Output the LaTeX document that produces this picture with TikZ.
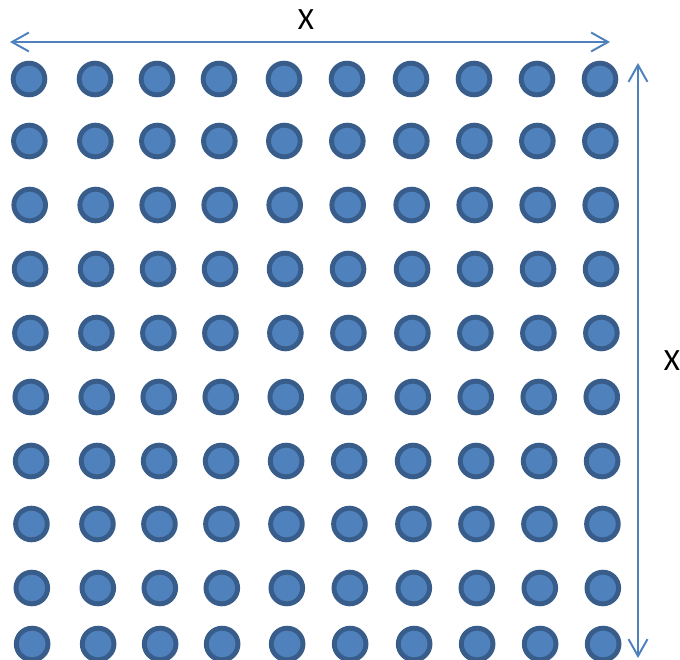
\documentclass[tikz,border=0pt]{standalone}
\usepackage{fontspec}
\setmainfont{Carlito}
\usepackage{xcolor}
\usepackage{tikz}
\usetikzlibrary{arrows.meta}

\definecolor{dotfill}{HTML}{4F81BD}
\definecolor{dotedge}{HTML}{385D8A}
\definecolor{arrowblue}{HTML}{4F81BD}

\tikzset{
    dot/.style={circle, draw=dotedge, fill=dotfill, line width=3.5pt, minimum size=22.5pt, inner sep=0pt},
    sizearrow/.style={arrowblue, line width=1.4pt, {Straight Barb[length=12pt, width=13.5pt]}-{Straight Barb[length=12pt, width=13.5pt]}},
    sizelabel/.style={font=\fontsize{22}{24}\selectfont, inner sep=0pt}
}

\begin{document}
\begin{tikzpicture}[x=0.025cm, y=-0.025cm]

    \useasboundingbox (0,0) rectangle (680,660);

    % =================================================================
    % 10 x 10 grid of dots
    % =================================================================
    \foreach \y [count=\r] in {79,141,205,269,333,397,461,524,588,644} {
        \foreach \x [count=\c] in {29,95,157,219,284,347,411,474,537,600} {
            \node[dot] (d-\r-\c) at ({\x+(\r-1)*0.35},\y) {};
        }
    }

    % =================================================================
    % Size arrows and labels
    % =================================================================
    \coordinate (TL) at (10,42);
    \coordinate (TR) at (610,42);
    \coordinate (RT) at (638,63);
    \coordinate (RB) at (638,658);

    \draw[sizearrow] (TL) -- (TR);
    \draw[sizearrow] (RT) -- (RB);

    \node[sizelabel] (xtop) at (306,20) {X};
    \node[sizelabel] (xright) at (672,361) {X};

\end{tikzpicture}
\end{document}
